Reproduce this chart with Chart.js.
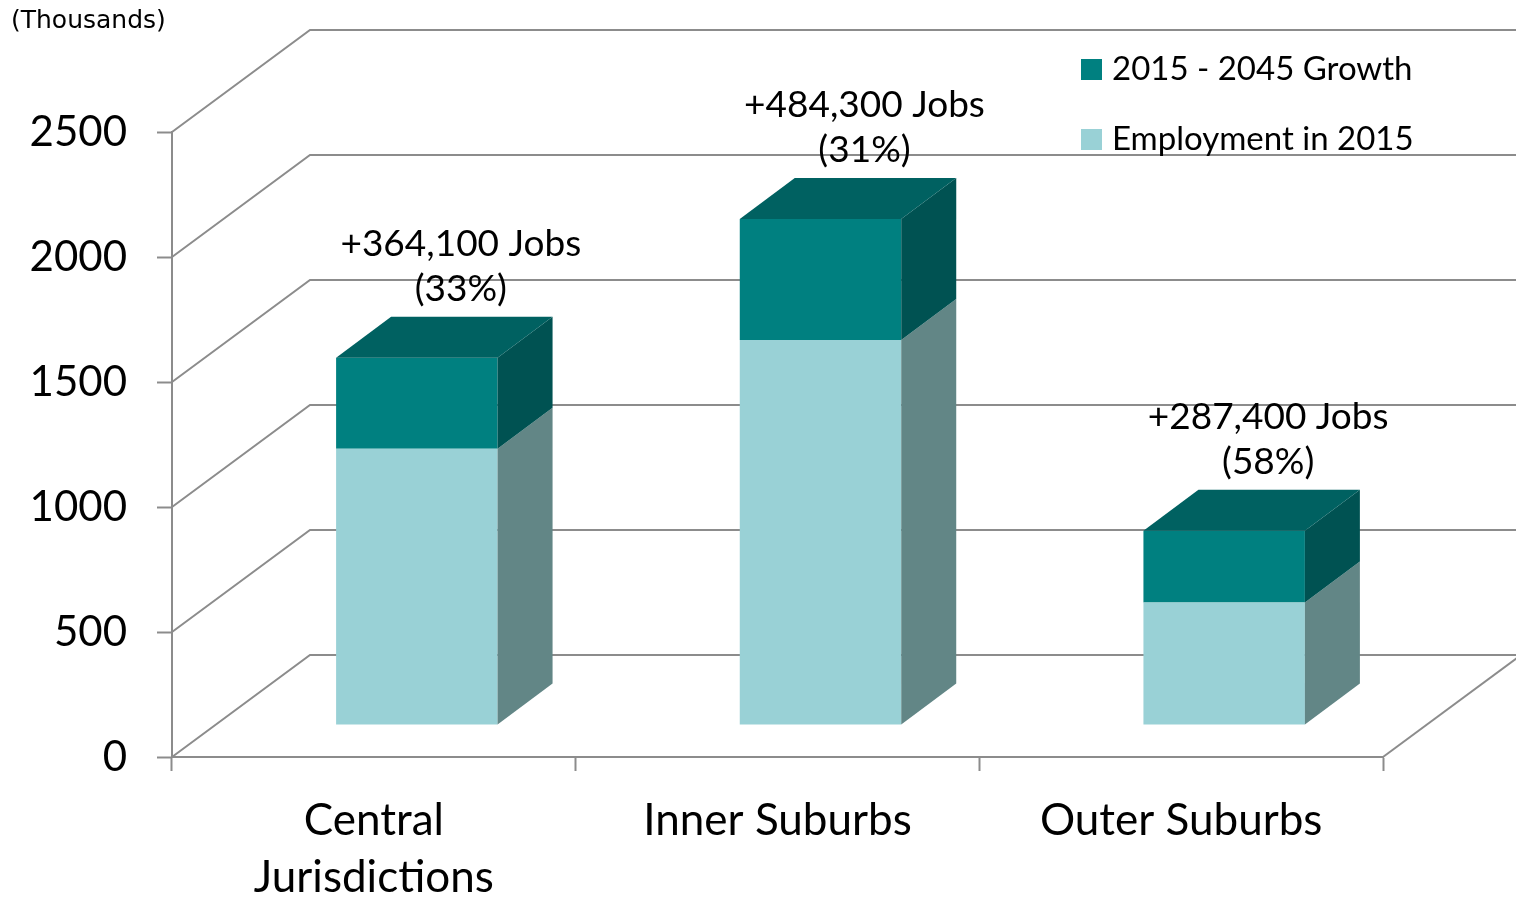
<!DOCTYPE html>
<html>
<head>
<meta charset="utf-8">
<script src="https://cdn.jsdelivr.net/npm/chart.js@4/dist/chart.umd.min.js"></script>
<style>
    body { margin: 0; background: #fff; }
    #wrap { width: 1516px; height: 897px; }
</style>
</head>
<body>
<div id="wrap"><canvas id="jobsChart" width="1516" height="897"></canvas></div>
<script>
// Chart data
const categories = [['Central', 'Jurisdictions'], 'Inner Suburbs', 'Outer Suburbs'];
const employment2015 = [1105, 1540, 490];
const growth = [364.1, 484.3, 287.4];
const growthLabels = ['+364,100 Jobs', '+484,300 Jobs', '+287,400 Jobs'];
const growthPct = ['(33%)', '(31%)', '(58%)'];
const yMax = 2500;
const yStep = 500;

// 3D look
const gridColor = '#8c8c8c';
const barShift = { x: 43, y: -32 };   // bar front face, relative to front plane
const barDepth = { x: 55, y: -41 };
const wallDepth = { x: 138, y: -102 };

const colors = {
    lightFront: '#99d1d6',
    lightSide: '#628686',
    darkFront: '#008080',
    darkTop: '#006161',
    darkSide: '#005252'
};

function poly(ctx, pts, fill) {
    ctx.beginPath();
    ctx.moveTo(pts[0][0], pts[0][1]);
    for (let i = 1; i < pts.length; i++) ctx.lineTo(pts[i][0], pts[i][1]);
    ctx.closePath();
    ctx.fillStyle = fill;
    ctx.fill();
}

const box3d = {
    id: 'box3d',
    beforeDatasetsDraw(chart) {
        const ctx = chart.ctx;
        const area = chart.chartArea;
        const y = chart.scales.y;

        // back wall, left wall and floor lines
        ctx.save();
        ctx.strokeStyle = gridColor;
        ctx.lineWidth = 2;
        for (let v = 0; v <= yMax; v += yStep) {
            const py = y.getPixelForValue(v);
            ctx.beginPath();
            ctx.moveTo(area.left, py);
            ctx.lineTo(area.left + wallDepth.x, py + wallDepth.y);
            ctx.lineTo(chart.width, py + wallDepth.y);
            ctx.stroke();
        }
        ctx.beginPath();
        ctx.moveTo(area.right, area.bottom);
        ctx.lineTo(area.right + wallDepth.x, area.bottom + wallDepth.y);
        ctx.stroke();
        ctx.restore();

        // bars get drawn a little way back into the box
        ctx.save();
        ctx.translate(barShift.x, barShift.y);
    },
    afterDatasetsDraw(chart) {
        const ctx = chart.ctx;
        const sideColors = [colors.lightSide, colors.darkSide];

        chart.data.datasets.forEach(function (ds, di) {
            chart.getDatasetMeta(di).data.forEach(function (bar) {
                const right = bar.x + bar.width / 2;
                const left = bar.x - bar.width / 2;
                poly(ctx, [
                    [right, bar.y],
                    [right + barDepth.x, bar.y + barDepth.y],
                    [right + barDepth.x, bar.base + barDepth.y],
                    [right, bar.base]
                ], sideColors[di]);
                if (di === chart.data.datasets.length - 1) {
                    poly(ctx, [
                        [left, bar.y],
                        [left + barDepth.x, bar.y + barDepth.y],
                        [right + barDepth.x, bar.y + barDepth.y],
                        [right, bar.y]
                    ], colors.darkTop);
                }
            });
        });

        // growth labels above each bar
        ctx.fillStyle = '#000';
        ctx.font = '37px Lato';
        ctx.textAlign = 'center';
        ctx.textBaseline = 'middle';
        chart.getDatasetMeta(1).data.forEach(function (bar, i) {
            const cx = bar.x + 44;
            ctx.fillText(growthLabels[i], cx, bar.y - 114);
            ctx.fillText(growthPct[i], cx, bar.y - 69);
        });

        ctx.restore();
    },
    afterDraw(chart) {
        const ctx = chart.ctx;
        ctx.save();
        ctx.fillStyle = '#000';
        ctx.textBaseline = 'middle';
        ctx.textAlign = 'left';
        ctx.font = '25px "DejaVu Sans"';
        ctx.fillText('(Thousands)', 11, 21);

        // legend, growth listed first
        const items = [
            { text: chart.data.datasets[1].label, color: colors.darkFront },
            { text: chart.data.datasets[0].label, color: colors.lightFront }
        ];
        ctx.font = '33px Lato';
        items.forEach(function (item, i) {
            const cy = 69 + i * 70;
            ctx.fillStyle = item.color;
            ctx.fillRect(1081, cy - 10, 21, 21);
            ctx.fillStyle = '#000';
            ctx.fillText(item.text, 1112, cy);
        });
        ctx.restore();
    }
};

const ctx = document.getElementById('jobsChart').getContext('2d');
Chart.defaults.font.family = 'Lato';
Chart.defaults.color = '#000';

new Chart(ctx, {
    type: 'bar',
    data: {
        labels: categories,
        datasets: [{
            label: 'Employment in 2015',
            data: employment2015,
            backgroundColor: colors.lightFront,
            borderWidth: 0
        }, {
            label: '2015 - 2045 Growth',
            data: growth,
            backgroundColor: colors.darkFront,
            borderWidth: 0
        }]
    },
    options: {
        responsive: false,
        animation: false,
        layout: {
            padding: { left: 0, top: 132, right: 133, bottom: 0 }
        },
        plugins: {
            legend: { display: false },
            tooltip: { enabled: false }
        },
        datasets: {
            bar: { categoryPercentage: 0.8, barPercentage: 0.5 }
        },
        scales: {
            x: {
                stacked: true,
                grid: {
                    drawOnChartArea: false,
                    tickLength: 14,
                    tickColor: gridColor,
                    tickWidth: 2
                },
                border: { color: gridColor, width: 2 },
                ticks: {
                    font: { size: 44, lineHeight: 1.3 },
                    padding: 21,
                    maxRotation: 0
                },
                afterFit(scale) { scale.height = 140; }
            },
            y: {
                stacked: true,
                min: 0,
                max: yMax,
                ticks: {
                    stepSize: yStep,
                    font: { size: 42 },
                    padding: 30,
                    callback: function (value) { return String(value); }
                },
                grid: {
                    drawOnChartArea: false,
                    tickLength: 15,
                    tickColor: gridColor,
                    tickWidth: 2
                },
                border: { color: gridColor, width: 2 },
                afterFit(scale) { scale.width = 172; }
            }
        }
    },
    plugins: [box3d]
});
</script>
</body>
</html>
